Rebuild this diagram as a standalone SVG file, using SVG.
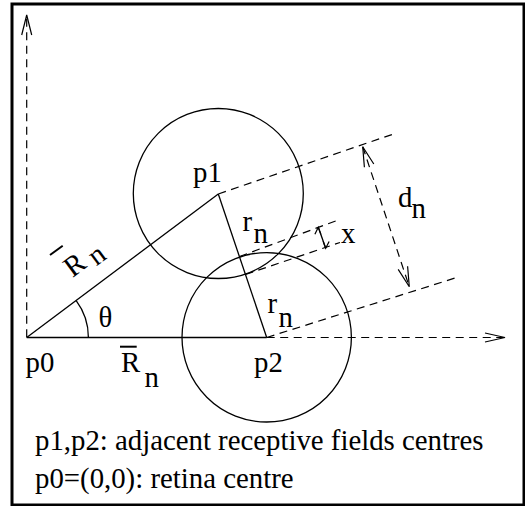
<svg xmlns="http://www.w3.org/2000/svg" width="525" height="506" viewBox="0 0 525 506">
<style>
.t{font-family:'Liberation Serif','Times New Roman','DejaVu Serif',serif;font-size:28.8px;fill:#000}
.s{fill:none;stroke:#000;stroke-width:1.3}
.d{fill:none;stroke:#000;stroke-width:1.2;stroke-dasharray:8 5.5}
.a{fill:none;stroke:#000;stroke-width:1.2;stroke-linejoin:miter}
</style>
<rect x="12" y="4" width="512" height="501" fill="#fff" stroke="#000" stroke-width="3"/>
<g id="connectors">
  <line class="d" x1="26.7" y1="337.3" x2="26.7" y2="16"/>
  <polyline class="a" points="21.7,35 26.7,15 31.7,35"/>
  <line class="d" x1="266.7" y1="337.5" x2="504" y2="337.5"/>
  <polyline class="a" points="485,333 505,337.5 485,342"/>
  <line class="s" x1="26.7" y1="337.5" x2="266.7" y2="337.5"/>
  <line class="s" x1="26.7" y1="337.5" x2="218.3" y2="194"/>
  <line class="s" x1="218.3" y1="194" x2="266.7" y2="337.5"/>
  <path class="s" d="M88.4 337.5 A61.7 61.7 0 0 0 76.2 300.6"/>
  <line class="d" x1="218.3" y1="194" x2="395" y2="133.5"/>
  <line class="d" x1="266.7" y1="337.5" x2="458.3" y2="277"/>
  <line class="d" x1="239.5" y1="256.5" x2="338.3" y2="220"/>
  <line class="d" x1="245.5" y1="274.5" x2="340" y2="242.5"/>
  <line class="d" x1="362.7" y1="146.7" x2="409.3" y2="286.7"/>
  <polyline class="a" points="373.8,164 362.7,146.7 364.4,167.2"/>
  <polyline class="a" points="407.6,266.2 409.3,286.7 398.2,269.4"/>
  <line class="s" x1="318.3" y1="227.3" x2="325.7" y2="248.3" stroke-width="1"/>
  <polyline class="a" points="314.9,234.2 318.3,227.3 320.9,234.4" stroke-width="1"/>
  <polyline class="a" points="323.1,241.2 325.7,248.3 329.1,241.4" stroke-width="1"/>
</g>
<g id="circle-p1"><circle class="s" cx="218.3" cy="193.5" r="85"/></g>
<g id="circle-p2"><circle class="s" cx="266.7" cy="337.3" r="84.7"/></g>
<g id="p0"><text class="t" x="25.5" y="372">p0</text></g>
<g id="p1"><text class="t" x="193" y="181.7">p1</text></g>
<g id="p2"><text class="t" x="254" y="372">p2</text></g>
<g id="theta"><text class="t" x="98.5" y="327">θ</text></g>
<g id="R-bottom">
  <line x1="120" y1="346.7" x2="136.7" y2="346.7" stroke="#000" stroke-width="2"/>
  <text class="t" x="121" y="371.7">R</text>
  <text class="t" x="144.5" y="386.5">n</text>
</g>
<g id="R-slanted">
  <line x1="50" y1="255" x2="62.7" y2="245.7" stroke="#000" stroke-width="2"/>
  <g transform="translate(72.5 278) rotate(-36.7)">
    <text class="t" x="0" y="0">R</text>
    <text class="t" x="26" y="5">n</text>
  </g>
</g>
<g id="r-upper"><text class="t" x="242.5" y="230.5">r</text><text class="t" x="253.5" y="242.5">n</text></g>
<g id="r-lower"><text class="t" x="267.5" y="313.3">r</text><text class="t" x="278.5" y="326.7">n</text></g>
<g id="x-label"><text class="t" x="341" y="243">x</text></g>
<g id="d-label"><text class="t" x="398" y="207">d</text><text class="t" x="411.5" y="218.3">n</text></g>
<g id="legend">
  <text class="t" x="35" y="450">p1,p2: adjacent receptive fields centres</text>
  <text class="t" x="35" y="488">p0=(0,0): retina centre</text>
</g>
</svg>
